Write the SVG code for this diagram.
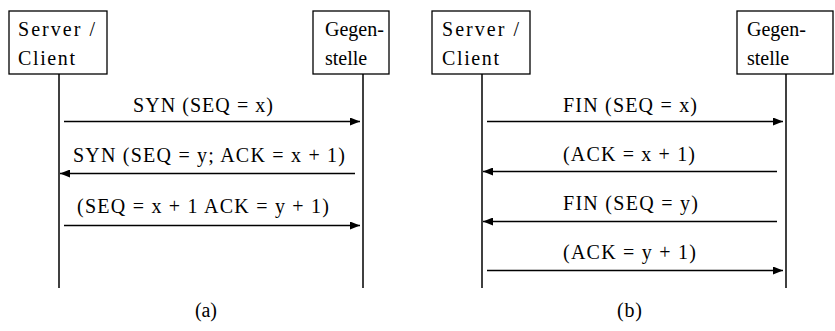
<svg xmlns="http://www.w3.org/2000/svg" width="835" height="331" viewBox="0 0 835 331" font-family="'Liberation Serif', 'DejaVu Serif', serif">
<style>
text{font-family:'Liberation Serif','DejaVu Serif',serif;font-size:20px;fill:#000}
.box{fill:#fff;stroke:#000;stroke-width:1.3}
.life{stroke:#000;stroke-width:1.5}
.msg{stroke:#000;stroke-width:1.3;fill:none}
</style>
<defs>
<marker id="ah" viewBox="0 0 10 8" refX="10" refY="4" markerWidth="10" markerHeight="8" markerUnits="userSpaceOnUse" orient="auto">
<path d="M0,0 L10,4 L0,8 Z" fill="#000"/>
</marker>
</defs>
<g id="a-client">
<line class="life" x1="59" y1="74" x2="59" y2="288"/>
<rect class="box" x="9" y="11" width="98" height="63"/>
<text x="18" y="36" textLength="77" lengthAdjust="spacing">Server /</text>
<text x="18" y="65" textLength="57" lengthAdjust="spacing">Client</text>
</g>
<g id="a-peer">
<line class="life" x1="363" y1="74" x2="363" y2="288"/>
<rect class="box" x="313" y="11" width="76" height="63"/>
<text x="325" y="36">Gegen-</text>
<text x="325" y="65">stelle</text>
</g>
<g id="b-client">
<line class="life" x1="482" y1="74" x2="482" y2="288"/>
<rect class="box" x="432" y="11" width="98" height="63"/>
<text x="442" y="36" textLength="77" lengthAdjust="spacing">Server /</text>
<text x="442" y="65" textLength="57" lengthAdjust="spacing">Client</text>
</g>
<g id="b-peer">
<line class="life" x1="786" y1="74" x2="786" y2="288"/>
<rect class="box" x="737" y="11" width="96" height="63"/>
<text x="747" y="36">Gegen-</text>
<text x="747" y="65">stelle</text>
</g>
<g id="connectors">
<line class="msg" x1="64" y1="121.5" x2="360" y2="121.5" marker-end="url(#ah)"/>
<line class="msg" x1="355" y1="173.5" x2="60" y2="173.5" marker-end="url(#ah)"/>
<line class="msg" x1="64" y1="225.5" x2="360" y2="225.5" marker-end="url(#ah)"/>
<line class="msg" x1="487" y1="121.5" x2="783" y2="121.5" marker-end="url(#ah)"/>
<line class="msg" x1="777" y1="171.5" x2="483" y2="171.5" marker-end="url(#ah)"/>
<line class="msg" x1="777" y1="221.5" x2="483" y2="221.5" marker-end="url(#ah)"/>
<line class="msg" x1="487" y1="270.5" x2="783" y2="270.5" marker-end="url(#ah)"/>
</g>
<g id="labels">
<text x="133" y="112" textLength="140" lengthAdjust="spacing">SYN (SEQ = x)</text>
<text x="73" y="162" textLength="272" lengthAdjust="spacing">SYN (SEQ = y; ACK = x + 1)</text>
<text x="77" y="213" textLength="252" lengthAdjust="spacing">(SEQ = x + 1 ACK = y + 1)</text>
<text x="563" y="112" textLength="134" lengthAdjust="spacing">FIN (SEQ = x)</text>
<text x="563" y="161" textLength="132" lengthAdjust="spacing">(ACK = x + 1)</text>
<text x="563" y="210" textLength="135" lengthAdjust="spacing">FIN (SEQ = y)</text>
<text x="563" y="259" textLength="133" lengthAdjust="spacing">(ACK = y + 1)</text>
<text x="195" y="317" textLength="22" lengthAdjust="spacing">(a)</text>
<text x="617" y="317" textLength="25" lengthAdjust="spacing">(b)</text>
</g>
</svg>
